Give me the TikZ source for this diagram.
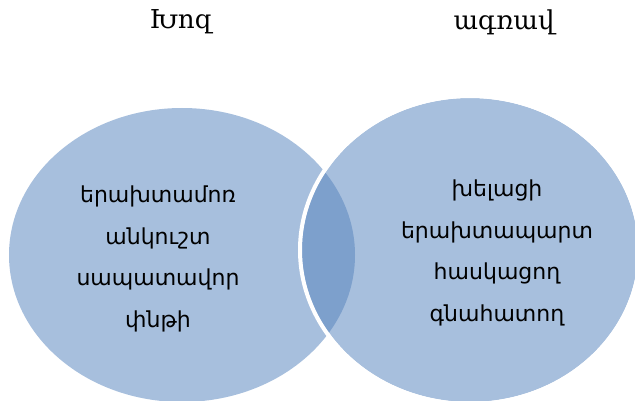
\documentclass[tikz,border=0pt]{standalone}
\usepackage{fontspec}
\setmainfont{DejaVu Sans}
\newfontfamily\titlefont{DejaVu Serif}
\definecolor{vennlight}{HTML}{A7BFDD}
\definecolor{venndark}{HTML}{7DA0CC}
\tikzset{
  setlabel/.style={font=\titlefont\fontsize{26}{30}\selectfont, inner sep=0pt},
  traits/.style={font=\fontsize{22}{41.5}\selectfont, align=center, inner sep=0pt},
}
\begin{document}
\begin{tikzpicture}[x=1pt, y=-1pt]
\useasboundingbox (0,0) rectangle (635,401);
\clip (0,0) rectangle (635,401);
% sets
\fill[vennlight] (182,255) ellipse [x radius=173, y radius=147];
\fill[vennlight] (470,250) ellipse [x radius=168, y radius=152];
\begin{scope}
\clip (182,255) ellipse [x radius=173, y radius=147];
\fill[venndark] (470,250) ellipse [x radius=168, y radius=152];
\end{scope}
\draw[white, line width=4pt] (470,250) ellipse [x radius=170, y radius=154];
% labels
\node[setlabel] (pig) at (181,22) {Խոզ};
\node[setlabel] (crow) at (504,22) {ագռավ};
\node[traits] (pigtraits) at (158,259) {երախտամոռ\\անկուշտ\\սապատավոր\\փնթի};
\node[traits] (crowtraits) at (497,253) {խելացի\\երախտապարտ\\հասկացող\\գնահատող};
\end{tikzpicture}
\end{document}
